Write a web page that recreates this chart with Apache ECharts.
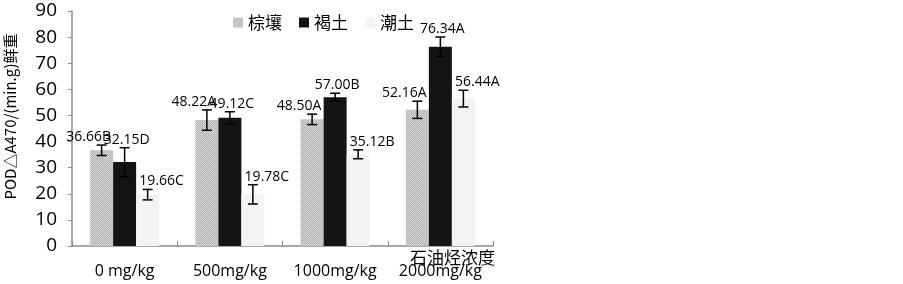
<!DOCTYPE html>
<html>
<head>
<meta charset="utf-8">
<script src="https://cdn.jsdelivr.net/npm/echarts@6/dist/echarts.min.js"></script>
<style>
  html, body { margin: 0; padding: 0; background: #fff; }
  #main { width: 903px; height: 284px; }
</style>
</head>
<body>
<div id="main"></div>
<script>
// data
const categories = ['0 mg/kg', '500mg/kg', '1000mg/kg', '2000mg/kg'];
const seriesNames = ['棕壤', '褐土', '潮土'];
const zongrang = [36.66, 48.22, 48.50, 52.16];
const hetu = [32.15, 49.12, 57.00, 76.34];
const chaotu = [19.66, 19.78, 35.12, 56.44];
const zongrangErr = [2.0, 3.9, 2.0, 3.3];
const hetuErr = [5.5, 2.3, 1.5, 3.7];
const chaotuErr = [2.0, 3.7, 1.7, 3.2];
const zongrangTag = ['B', 'A', 'A', 'A'];
const hetuTag = ['D', 'C', 'B', 'A'];
const chaotuTag = ['C', 'C', 'B', 'A'];
const yTicks = [0, 90, 10]; // min, max, step

const FONT = '"Open Sans", sans-serif';
const CJK = '"Noto Sans CJK SC", sans-serif';
const BAR_W = 23;

// fine hatch used for 棕壤
function hatch() {
  const c = document.createElement('canvas');
  c.width = 2; c.height = 2;
  const g = c.getContext('2d');
  g.fillStyle = '#d6d6d6';
  g.fillRect(0, 0, 2, 2);
  g.fillStyle = '#b2b2b2';
  g.fillRect(0, 1, 1, 1);
  g.fillRect(1, 0, 1, 1);
  return c;
}

const barColors = [{ image: hatch(), repeat: 'repeat' }, '#141414', '#f3f3f3'];
const values = [zongrang, hetu, chaotu];
const errs = [zongrangErr, hetuErr, chaotuErr];
const tags = [zongrangTag, hetuTag, chaotuTag];
const labelShift = [-13, 2, 14];

function errSeries(k) {
  const offset = (k - 1) * BAR_W;
  return {
    type: 'custom',
    name: seriesNames[k] + '误差',
    z: 5,
    encode: { x: 0, y: 1 },
    data: values[k].map((v, i) => [i, v, errs[k][i]]),
    renderItem: function (params, api) {
      const i = api.value(0), v = api.value(1), e = api.value(2);
      const top = api.coord([i, v + e]);
      const bot = api.coord([i, v - e]);
      const x = top[0] + offset;
      const cap = 5;
      const ls = { stroke: '#000', lineWidth: 1.5 };
      return {
        type: 'group',
        children: [
          { type: 'line', shape: { x1: x, y1: top[1], x2: x, y2: bot[1] }, style: ls },
          { type: 'line', shape: { x1: x - cap, y1: top[1], x2: x + cap, y2: top[1] }, style: ls },
          { type: 'line', shape: { x1: x - cap, y1: bot[1], x2: x + cap, y2: bot[1] }, style: ls },
          {
            type: 'text',
            x: x + labelShift[k],
            y: top[1] - 1,
            style: {
              text: v.toFixed(2) + tags[k][i],
              align: 'center',
              verticalAlign: 'bottom',
              fontSize: 14,
              fontFamily: FONT,
              fill: '#000'
            }
          }
        ]
      };
    }
  };
}

const chart = echarts.init(document.getElementById('main'));
chart.setOption({
  animation: false,
  backgroundColor: '#fff',
  grid: { left: 72, right: 410, top: 11, bottom: 38 },
  legend: {
    data: seriesNames,
    left: 228,
    top: 9,
    itemWidth: 10,
    itemHeight: 10,
    itemGap: 17,
    icon: 'rect',
    textStyle: { fontSize: 17, fontFamily: CJK, color: '#000' }
  },
  xAxis: {
    type: 'category',
    data: categories,
    name: '石油烃浓度',
    nameLocation: 'end',
    nameGap: -83,
    nameMoveOverlap: false,
    nameTextStyle: {
      verticalAlign: 'top',
      padding: [3, 0, 0, 0],
      fontSize: 17,
      fontFamily: CJK,
      color: '#000'
    },
    axisLine: { lineStyle: { color: '#8c8c8c', width: 1.5 } },
    axisTick: { show: true, inside: true, length: 5, lineStyle: { color: '#8c8c8c' } },
    axisLabel: { interval: 0, hideOverlap: false, fontSize: 16, fontFamily: FONT, color: '#000', margin: 17 }
  },
  yAxis: {
    type: 'value',
    min: yTicks[0],
    max: yTicks[1],
    interval: yTicks[2],
    name: 'POD△A470/(min.g)鲜重',
    nameLocation: 'middle',
    nameGap: 54,
    nameTextStyle: { fontSize: 15, fontFamily: CJK, color: '#000', padding: [0, 0, 0, 24] },
    axisLine: { show: true, lineStyle: { color: '#8c8c8c', width: 1.5 } },
    axisTick: { show: true, length: 4, lineStyle: { color: '#8c8c8c' } },
    splitLine: { show: false },
    axisLabel: { fontSize: 19, fontFamily: FONT, color: '#000', margin: 15 }
  },
  series: [
    { type: 'bar', name: seriesNames[0], data: zongrang, barWidth: BAR_W, barGap: '0%', itemStyle: { color: barColors[0] } },
    { type: 'bar', name: seriesNames[1], data: hetu, barWidth: BAR_W, barGap: '0%', itemStyle: { color: barColors[1] } },
    { type: 'bar', name: seriesNames[2], data: chaotu, barWidth: BAR_W, barGap: '0%', itemStyle: { color: barColors[2] } },
    errSeries(0),
    errSeries(1),
    errSeries(2)
  ]
});
</script>
</body>
</html>
